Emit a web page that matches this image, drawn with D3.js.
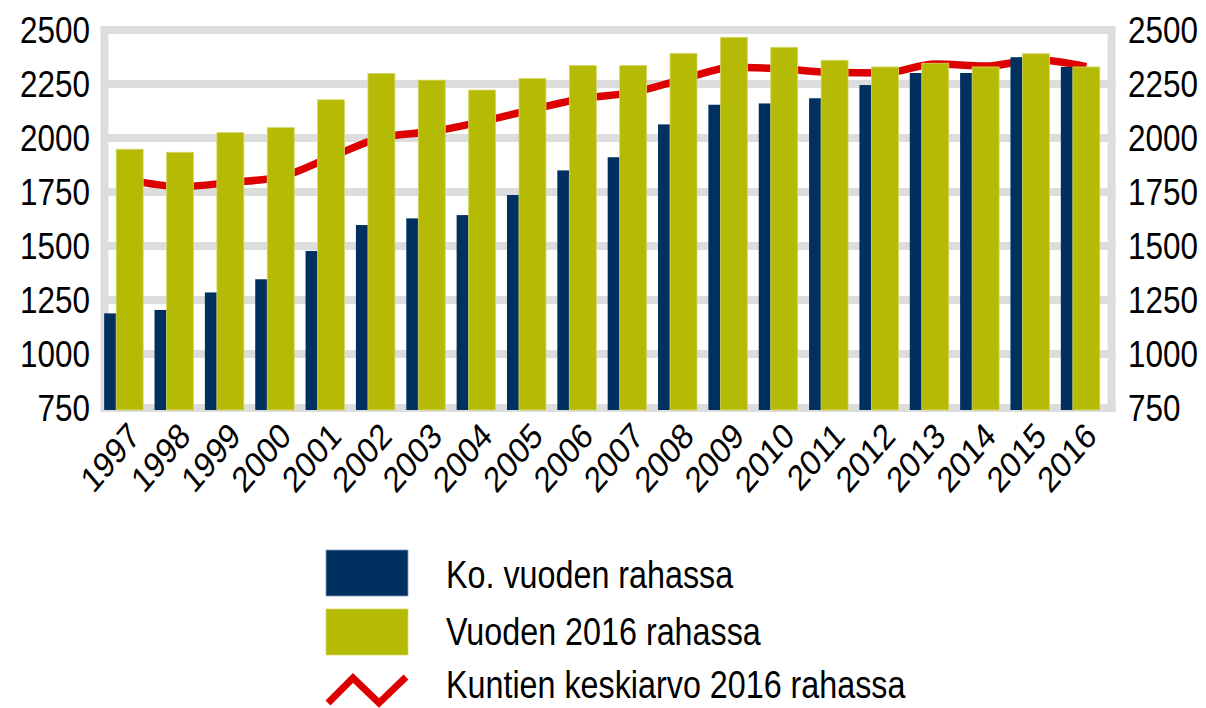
<!DOCTYPE html>
<html>
<head>
<meta charset="utf-8">
<script src="https://cdn.jsdelivr.net/npm/d3@7"></script>
<style>
  body { margin: 0; background: #fff; }
  text { font-family: "Liberation Sans", Arial, sans-serif; fill: #000; }
</style>
</head>
<body>
<div id="chart"></div>
<script>
// data
var years = ["1997","1998","1999","2000","2001","2002","2003","2004","2005","2006",
             "2007","2008","2009","2010","2011","2012","2013","2014","2015","2016"];
var nominal = [1188,1204,1285,1346,1477,1597,1628,1643,1736,1850,
               1911,2063,2154,2160,2184,2245,2301,2301,2374,2329];
var real2016 = [1948,1934,2025,2048,2177,2299,2268,2222,2276,2336,
                2336,2392,2466,2420,2360,2329,2346,2329,2390,2329];
var avgMunicipal = [1806,1775,1794,1820,1912,2002,2030,2076,2132,2183,
                    2211,2273,2328,2319,2303,2301,2343,2333,2362,2330];
var yTicks = [750,1000,1250,1500,1750,2000,2250,2500];
var legendLabels = ["Ko. vuoden rahassa", "Vuoden 2016 rahassa", "Kuntien keskiarvo 2016 rahassa"];

var W = 1206, H = 708;
var plotL = 104.5, plotR = 1111.5, plotT = 30, plotB = 408;
var sx = 0.85; // text looks horizontally squeezed in the original

var navy = "#00305f", olive = "#b5ba04", red = "#dc0000", grid = "#dddddd";

var svg = d3.select("#chart").append("svg")
    .attr("width", W).attr("height", H);

var x = d3.scaleBand().domain(years).range([plotL, plotR]).padding(0);
var y = d3.scaleLinear().domain([750, 2500]).range([plotB, plotT]);

// grid + frame
svg.append("g").selectAll("line")
  .data(yTicks)
  .join("line")
    .attr("x1", plotL - 3.5).attr("x2", plotR + 4)
    .attr("y1", d => y(d)).attr("y2", d => y(d))
    .attr("stroke", grid).attr("stroke-width", 8);

svg.append("g").selectAll("line")
  .data([plotL, plotR])
  .join("line")
    .attr("x1", d => d).attr("x2", d => d)
    .attr("y1", plotT - 4).attr("y2", plotB + 4)
    .attr("stroke", grid).attr("stroke-width", 8);

// average line sits behind the bars
var line = d3.line()
    .x((d, i) => x(years[i]) + x.bandwidth() / 2)
    .y(d => y(d))
    .curve(d3.curveMonotoneX);

svg.append("path")
    .datum(avgMunicipal)
    .attr("d", line)
    .attr("fill", "none")
    .attr("stroke", red)
    .attr("stroke-width", 7.5)
    .attr("stroke-linejoin", "round");

var bw = 27;
svg.append("g").selectAll("rect")
  .data(nominal)
  .join("rect")
    .attr("x", (d, i) => x(years[i]) + x.bandwidth() / 2 - 25.5)
    .attr("y", d => y(d))
    .attr("width", bw)
    .attr("height", d => plotB + 2 - y(d))
    .attr("fill", navy);

svg.append("g").selectAll("rect")
  .data(real2016)
  .join("rect")
    .attr("x", (d, i) => x(years[i]) + x.bandwidth() / 2 - 13.5)
    .attr("y", d => y(d))
    .attr("width", bw)
    .attr("height", d => plotB + 2 - y(d))
    .attr("fill", olive)
    .attr("stroke", "#d6d96a")
    .attr("stroke-width", 0.8);

// y tick labels on both sides
svg.append("g").selectAll("text")
  .data(yTicks)
  .join("text")
    .attr("transform", d => "translate(90," + y(d) + ") scale(" + sx + ",1)")
    .attr("text-anchor", "end")
    .attr("dy", "0.35em")
    .style("font-size", "37px")
    .text(d => d);

svg.append("g").selectAll("text")
  .data(yTicks)
  .join("text")
    .attr("transform", d => "translate(1128," + y(d) + ") scale(" + sx + ",1)")
    .attr("text-anchor", "start")
    .attr("dy", "0.35em")
    .style("font-size", "37px")
    .text(d => d);

// rotated year labels
svg.append("g").selectAll("text")
  .data(years)
  .join("text")
    .attr("transform", d => "translate(" + (x(d) + x.bandwidth() / 2 + 12) + ",438) scale(" + sx + ",1) rotate(-45)")
    .attr("text-anchor", "end")
    .style("font-size", "36px")
    .text(d => d);

// legend
var lg = svg.append("g");
lg.append("rect").attr("x", 326).attr("y", 550).attr("width", 82).attr("height", 46)
    .attr("fill", navy).attr("stroke", "#7f9cc0").attr("stroke-width", 0.8);
lg.append("rect").attr("x", 326).attr("y", 609).attr("width", 82).attr("height", 46)
    .attr("fill", olive).attr("stroke", "#d6d96a").attr("stroke-width", 0.8);
lg.append("path")
    .attr("d", "M328,703 L353,678 L379,703 L406,677")
    .attr("fill", "none").attr("stroke", red).attr("stroke-width", 7);

lg.selectAll("text")
  .data(legendLabels)
  .join("text")
    .attr("transform", (d, i) => "translate(446," + [588, 645, 698][i] + ") scale(" + sx + ",1)")
    .style("font-size", "38px")
    .text(d => d);
</script>
</body>
</html>
